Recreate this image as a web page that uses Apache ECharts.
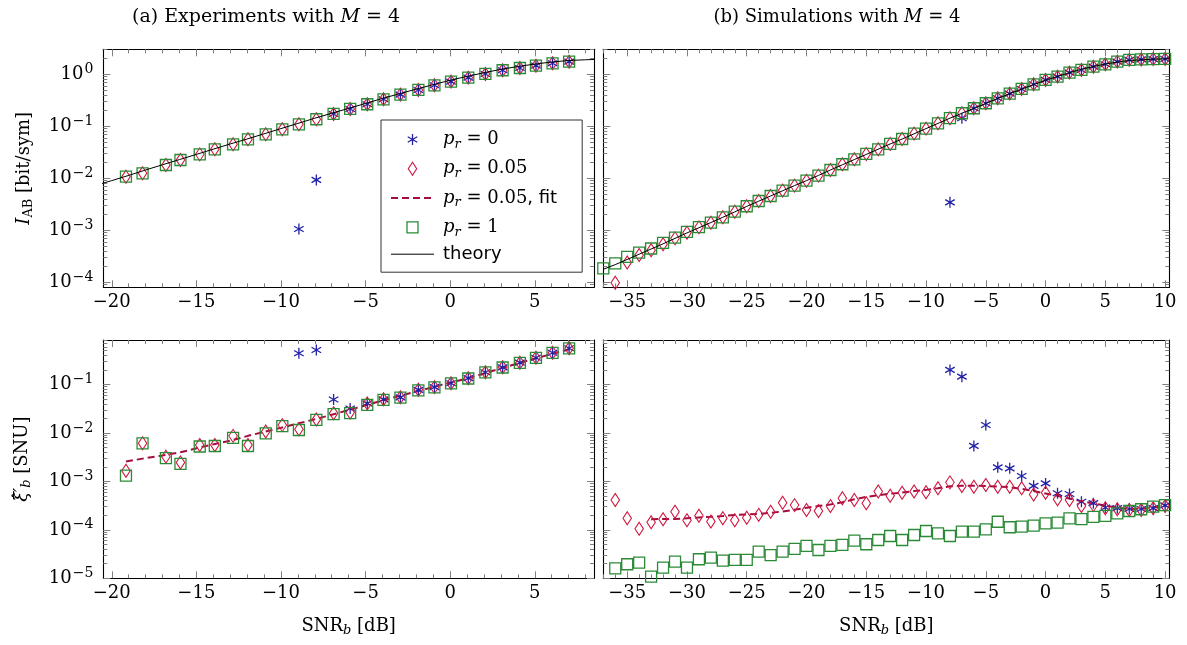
<!DOCTYPE html>
<html><head><meta charset="utf-8">
<script src="https://cdn.jsdelivr.net/npm/echarts@6/dist/echarts.min.js"></script>
<style>html,body{margin:0;padding:0;background:#fff}#c{width:1187px;height:645px}</style>
</head><body><div id="c"></div>
<script>
// ---------------- data ----------------
// (a) experiments: SNR_b [dB]
const SNR_EXP = [-19.16,-18.18,-16.80,-15.94,-14.80,-13.91,-12.83,-11.95,-10.90,-9.92,-8.94,-7.91,-6.89,-5.91,-4.90,-3.94,-2.94,-1.88,-0.93,0.05,1.07,2.08,3.10,4.12,5.07,6.05,7.03];
const I_EXP_P1 = [0.01074,0.01247,0.01803,0.02249,0.02884,0.03606,0.04508,0.05623,0.07015,0.0875,0.1091,0.1365,0.1726,0.2153,0.2649,0.3304,0.4064,0.4989,0.6138,0.7228,0.861,1.014,1.194,1.321,1.462,1.626,1.746];
const I_EXP_P005 = [0.01074,0.01247,0.01803,0.02249,0.02884,0.03606,0.04508,0.05623,0.07015,0.0875,0.1091,0.1365,0.1726,0.2153,0.2649,0.3304,0.4064,0.4989,0.6138,0.7228,0.861,1.014,1.194,1.321,1.462,1.626,1.746];
const I_EXP_P0 = [null,null,null,null,null,null,null,null,null,null,1.06e-3,9.3e-3,0.1726,0.2153,0.2649,0.3304,0.4064,0.4989,0.6138,0.7228,0.861,1.014,1.194,1.321,1.462,1.626,1.746];
const XI_EXP_P1 = [1.32e-3,6.1e-3,3.02e-3,2.29e-3,5.25e-3,5.37e-3,7.94e-3,5.37e-3,9.77e-3,1.38e-2,1.15e-2,1.86e-2,2.45e-2,2.57e-2,3.8e-2,4.79e-2,5.37e-2,7.59e-2,8.71e-2,0.105,0.133,0.178,0.224,0.279,0.355,0.45,0.556];
const XI_EXP_P005 = [1.66e-3,6.1e-3,3.24e-3,2.45e-3,5.62e-3,5.62e-3,8.7e-3,5.62e-3,1.07e-2,1.45e-2,1.19e-2,1.9e-2,2.55e-2,2.63e-2,4.07e-2,4.94e-2,5.43e-2,7.76e-2,8.81e-2,0.106,0.135,0.179,0.226,0.282,0.357,0.453,0.558];
const XI_EXP_P0 = [null,null,null,null,null,null,null,null,null,null,0.44,0.515,0.049,0.032,4.07e-2,4.94e-2,5.43e-2,7.76e-2,8.81e-2,0.106,0.135,0.179,0.226,0.282,0.357,0.453,0.558];
const XI_EXP_FIT = [2.57e-3,2.95e-3,3.51e-3,3.98e-3,5.01e-3,5.89e-3,7.16e-3,8.71e-3,1.07e-2,1.30e-2,1.585e-2,1.95e-2,2.43e-2,3.02e-2,3.8e-2,4.73e-2,5.89e-2,7.33e-2,9.02e-2,0.1096,0.135,0.172,0.221,0.279,0.347,0.431,0.533];

// (b) simulations: SNR_b [dB]
const SNR_SIM = [-37,-36,-35,-34,-33,-32,-31,-30,-29,-28,-27,-26,-25,-24,-23,-22,-21,-20,-19,-18,-17,-16,-15,-14,-13,-12,-11,-10,-9,-8,-7,-6,-5,-4,-3,-2,-1,0,1,2,3,4,5,6,7,8,9,10];
const I_SIM_P1 = [1.86e-4,2.32e-4,3.09e-4,3.72e-4,4.47e-4,5.75e-4,7.24e-4,9.3e-4,1.15e-3,1.40e-3,1.78e-3,2.28e-3,2.90e-3,3.66e-3,4.57e-3,5.80e-3,7.23e-3,9.0e-3,1.125e-2,1.445e-2,1.86e-2,2.32e-2,2.94e-2,3.61e-2,4.57e-2,5.70e-2,7.23e-2,9.0e-2,0.114,0.143,0.178,0.222,0.277,0.345,0.425,0.522,0.642,0.778,0.90,1.076,1.21,1.40,1.556,1.75,1.89,1.93,1.96,1.97];
const I_SIM_P005 = [null,9.8e-5,2.40e-4,3.35e-4,4.12e-4,5.40e-4,7.0e-4,9.0e-4,1.14e-3,1.40e-3,1.78e-3,2.28e-3,2.90e-3,3.66e-3,4.57e-3,5.80e-3,7.23e-3,9.0e-3,1.125e-2,1.445e-2,1.86e-2,2.32e-2,2.94e-2,3.61e-2,4.57e-2,5.70e-2,7.23e-2,9.0e-2,0.114,0.143,0.178,0.222,0.277,0.345,0.425,0.522,0.642,0.778,0.90,1.076,1.21,1.40,1.556,1.75,1.89,1.93,1.96,1.97];
const I_SIM_P0 = [null,null,null,null,null,null,null,null,null,null,null,null,null,null,null,null,null,null,null,null,null,null,null,null,null,null,null,null,null,3.45e-3,0.1425,0.222,0.277,0.345,0.425,0.522,0.642,0.778,0.90,1.076,1.21,1.40,1.556,1.75,1.89,1.93,1.96,1.97];
const XI_SIM_P1 = [null,1.61e-5,1.95e-5,2.10e-5,1.08e-5,1.66e-5,2.20e-5,1.66e-5,2.47e-5,2.66e-5,2.31e-5,2.39e-5,2.39e-5,3.55e-5,3.02e-5,3.55e-5,4.03e-5,4.65e-5,3.84e-5,4.65e-5,4.88e-5,5.97e-5,5.04e-5,6.17e-5,7.46e-5,6.17e-5,7.83e-5,9.46e-5,8.49e-5,7.46e-5,9.16e-5,9.16e-5,1.02e-4,1.47e-4,1.13e-4,1.16e-4,1.22e-4,1.36e-4,1.41e-4,1.73e-4,1.67e-4,1.86e-4,1.95e-4,2.19e-4,2.45e-4,2.66e-4,3.02e-4,3.24e-4];
const XI_SIM_P005 = [null,4.13e-4,1.73e-4,1.05e-4,1.43e-4,1.66e-4,2.37e-4,1.58e-4,1.95e-4,1.48e-4,1.73e-4,1.58e-4,1.78e-4,2.04e-4,2.37e-4,3.63e-4,3.24e-4,2.57e-4,2.45e-4,3.09e-4,4.47e-4,4.13e-4,3.55e-4,6.17e-4,5.07e-4,5.85e-4,6.17e-4,5.96e-4,7.24e-4,9.55e-4,8.04e-4,7.76e-4,8.41e-4,7.76e-4,7.76e-4,7.24e-4,5.37e-4,5.85e-4,4.27e-4,4.13e-4,3.09e-4,3.24e-4,2.79e-4,2.66e-4,2.57e-4,2.57e-4,2.79e-4,3.09e-4];
const XI_SIM_P0 = [null,null,null,null,null,null,null,null,null,null,null,null,null,null,null,null,null,null,null,null,null,null,null,null,null,null,null,null,null,0.20,0.145,5.4e-3,1.46e-2,1.95e-3,1.86e-3,1.29e-3,8.1e-4,9.1e-4,5.7e-4,5.5e-4,3.8e-4,3.55e-4,2.9e-4,2.8e-4,2.7e-4,2.7e-4,2.8e-4,3.2e-4];
const XI_SIM_FIT = [null,null,null,null,1.66e-4,1.67e-4,1.67e-4,1.74e-4,1.80e-4,1.86e-4,1.93e-4,2.02e-4,2.09e-4,2.14e-4,2.24e-4,2.40e-4,2.60e-4,2.85e-4,3.09e-4,3.35e-4,3.72e-4,4.27e-4,4.79e-4,5.19e-4,5.56e-4,5.89e-4,6.31e-4,6.68e-4,7.24e-4,7.94e-4,8.13e-4,8.13e-4,8.04e-4,7.85e-4,7.59e-4,7.0e-4,6.31e-4,5.62e-4,5.07e-4,4.42e-4,3.89e-4,3.51e-4,3.16e-4,2.85e-4,2.69e-4,2.72e-4,2.92e-4,3.09e-4];

// theory curve (both top panels)
const SNR_THEORY = [-37,-36,-35,-34,-33,-32,-31,-30,-29,-28,-27,-26,-25,-24,-23,-22,-21,-20,-19,-18,-17,-16,-15,-14,-13,-12,-11,-10,-9,-8,-7,-6,-5,-4,-3,-2,-1,0,1,2,3,4,5,6,7,8,9,10,11];
const I_THEORY = [1.78e-4,2.19e-4,2.75e-4,3.47e-4,4.37e-4,5.50e-4,7.00e-4,8.91e-4,1.12e-3,1.41e-3,1.78e-3,2.26e-3,2.88e-3,3.63e-3,4.57e-3,5.75e-3,7.24e-3,9.02e-3,1.135e-2,1.445e-2,1.82e-2,2.29e-2,2.88e-2,3.63e-2,4.57e-2,5.69e-2,7.16e-2,9.02e-2,0.1135,0.143,0.178,0.221,0.275,0.343,0.422,0.519,0.631,0.767,0.912,1.07,1.245,1.41,1.57,1.72,1.84,1.90,1.95,1.98,1.99];

// tick labels
const X_TICKS_EXP = [-20,-15,-10,-5,0,5];
const X_TICKS_SIM = [-35,-30,-25,-20,-15,-10,-5,0,5,10];
const Y_TICKS_I = [1e-4,1e-3,1e-2,1e-1,1];
const Y_TICKS_XI = [1e-5,1e-4,1e-3,1e-2,1e-1];

// ---------------- style ----------------
const SERIF = '"DejaVu Serif","Liberation Serif",serif';
const SANS = '"DejaVu Sans","Noto Sans",sans-serif';
const FS = 18;
const FSS = 13;
const TICK = '#808080';
const BLUE = '#2222a8';
const RED = '#d0143c';
const FITC = '#a50d3e';
const GREEN = '#2b8a36';
const CLEAR = 'rgba(0,0,0,0)';
const STAR = 'path://M0,-10L0,10M-8.66,-5L8.66,5M-8.66,5L8.66,-5';

const grids = [
  {left: 103.3, top: 49.3, width: 490.7, height: 238},
  {left: 603.3, top: 49.3, width: 566, height: 238},
  {left: 103.3, top: 340, width: 490.7, height: 238.3},
  {left: 603.3, top: 340, width: 566, height: 238.3}
];

function tk(vals, len) {
  return {show: true, inside: true, length: len, customValues: vals, lineStyle: {color: TICK, width: 1}};
}
const FRAME = {show: true, onZero: false, lineStyle: {color: '#000', width: 1.1}};
const NOLINE = {show: false, onZero: false};

function xAxesFor(g, min, max, majors, named) {
  const minors = [];
  for (let v = Math.ceil(min); v <= Math.floor(max); v++) if (majors.indexOf(v) < 0) minors.push(v);
  const common = {type: 'value', gridIndex: g, min: min, max: max, splitLine: {show: false}, silent: true};
  const main = Object.assign({}, common, {
    position: 'bottom', axisLine: FRAME, axisTick: tk(majors, 7),
    axisLabel: {show: true, customValues: majors, margin: 6, fontFamily: SERIF, fontSize: FS, color: '#000',
      formatter: v => (v < 0 ? '\u2212' + (-v) : String(v))}
  });
  if (named) Object.assign(main, {
    name: 'SNR{sb|b} [dB]', nameLocation: 'middle', nameGap: 37,
    nameTextStyle: {fontFamily: SERIF, fontSize: FS, color: '#000',
      rich: {sb: {fontFamily: SERIF, fontStyle: 'italic', fontSize: FSS, padding: [9, 0, 0, 0]}}}
  });
  return [main,
    Object.assign({}, common, {position: 'bottom', axisLine: NOLINE, axisTick: tk(minors, 4), axisLabel: {show: false}}),
    Object.assign({}, common, {position: 'top', axisLine: FRAME, axisTick: tk(majors, 7), axisLabel: {show: false}}),
    Object.assign({}, common, {position: 'top', axisLine: NOLINE, axisTick: tk(minors, 4), axisLabel: {show: false}})];
}

function yAxesFor(g, min, max, majors, showLabels, nameCfg) {
  const minors = [];
  for (let e = -7; e <= 1; e++) for (let k = 2; k <= 9; k++) {
    const v = +(k * Math.pow(10, e)).toPrecision(3);
    if (v > min && v < max) minors.push(v);
  }
  const common = {type: 'log', logBase: 10, gridIndex: g, min: min, max: max, splitLine: {show: false}, silent: true};
  const main = Object.assign({}, common, {
    position: 'left', axisLine: FRAME, axisTick: tk(majors, 7),
    axisLabel: {show: showLabels, customValues: majors, margin: 10,
      formatter: v => { const e = Math.round(Math.log10(v)); return '{b|10}{s|' + (e < 0 ? '\u2212' + (-e) : e) + '}'; },
      rich: {b: {fontFamily: SERIF, fontSize: FS, color: '#000'},
             s: {fontFamily: SERIF, fontSize: 14, color: '#000', padding: [0, 0, 10, 1]}}}
  });
  if (nameCfg) Object.assign(main, nameCfg);
  return [main,
    Object.assign({}, common, {position: 'left', axisLine: NOLINE, axisTick: tk(minors, 4), axisLabel: {show: false}}),
    Object.assign({}, common, {position: 'right', axisLine: FRAME, axisTick: tk(majors, 7), axisLabel: {show: false}}),
    Object.assign({}, common, {position: 'right', axisLine: NOLINE, axisTick: tk(minors, 4), axisLabel: {show: false}})];
}

const NAME_STYLE = {fontFamily: SERIF, fontSize: FS, color: '#000',
  rich: {i: {fontFamily: SERIF, fontStyle: 'italic', fontSize: FS},
         sub: {fontFamily: SERIF, fontSize: FSS, padding: [9, 0, 0, 0]},
         subi: {fontFamily: SERIF, fontStyle: 'italic', fontSize: FSS, padding: [9, 0, 0, 0]}}};

const xAxis = [].concat(
  xAxesFor(0, -20.5, 8.5, X_TICKS_EXP, false),
  xAxesFor(1, -37, 10.35, X_TICKS_SIM, false),
  xAxesFor(2, -20.5, 8.5, X_TICKS_EXP, true),
  xAxesFor(3, -37, 10.35, X_TICKS_SIM, true)
);
const yAxis = [].concat(
  yAxesFor(0, 8.02e-5, 3.02, Y_TICKS_I, true, {name: '{i|I}{sub|AB} [bit/sym]', nameLocation: 'middle', nameRotate: 90, nameGap: 68, nameTextStyle: NAME_STYLE}),
  yAxesFor(1, 8.02e-5, 3.02, Y_TICKS_I, false, null),
  yAxesFor(2, 0.99999e-5, 0.828, Y_TICKS_XI, true, {name: '{i|\u03BE\u0302\u2032}{subi|b} [SNU]', nameLocation: 'middle', nameRotate: 90, nameGap: 70, nameTextStyle: NAME_STYLE}),
  yAxesFor(3, 0.99999e-5, 0.828, Y_TICKS_XI, false, null)
);

function pairs(xs, ys) {
  const out = [];
  for (let i = 0; i < xs.length; i++) if (ys[i] != null) out.push([xs[i], ys[i]]);
  return out;
}
function stars(g, xs, ys) {
  return {type: 'scatter', name: 'p0', xAxisIndex: 4 * g, yAxisIndex: 4 * g, data: pairs(xs, ys), symbol: STAR, symbolSize: 11, symbolKeepAspect: true,
    itemStyle: {color: CLEAR, borderColor: BLUE, borderWidth: 1.3, opacity: 1}, clip: false, silent: true, z: 3};
}
function diamonds(g, xs, ys) {
  return {type: 'scatter', name: 'p005', xAxisIndex: 4 * g, yAxisIndex: 4 * g, data: pairs(xs, ys), symbol: 'diamond', symbolSize: [8.5, 13],
    itemStyle: {color: CLEAR, borderColor: RED, borderWidth: 1.1, opacity: 1}, clip: false, silent: true, z: 3};
}
function squares(g, xs, ys) {
  return {type: 'scatter', name: 'p1', xAxisIndex: 4 * g, yAxisIndex: 4 * g, data: pairs(xs, ys), symbol: 'rect', symbolSize: 11,
    itemStyle: {color: CLEAR, borderColor: GREEN, borderWidth: 1.3, opacity: 1}, clip: false, silent: true, z: 3};
}
function fitLine(g, xs, ys) {
  return {type: 'line', name: 'fit', xAxisIndex: 4 * g, yAxisIndex: 4 * g, data: pairs(xs, ys), symbol: 'none', showSymbol: false,
    lineStyle: {color: FITC, width: 2, type: [7, 4]}, itemStyle: {color: FITC}, clip: true, silent: true, z: 3};
}
function theory(g) {
  return {type: 'line', name: 'theory', xAxisIndex: 4 * g, yAxisIndex: 4 * g, data: pairs(SNR_THEORY, I_THEORY), symbol: 'none', showSymbol: false,
    lineStyle: {color: '#000', width: 1}, itemStyle: {color: '#000'}, clip: true, silent: true, z: 4};
}

const series = [
  stars(0, SNR_EXP, I_EXP_P0), diamonds(0, SNR_EXP, I_EXP_P005), squares(0, SNR_EXP, I_EXP_P1), theory(0),
  stars(1, SNR_SIM, I_SIM_P0), diamonds(1, SNR_SIM, I_SIM_P005), squares(1, SNR_SIM, I_SIM_P1), theory(1),
  stars(2, SNR_EXP, XI_EXP_P0), diamonds(2, SNR_EXP, XI_EXP_P005), fitLine(2, SNR_EXP, XI_EXP_FIT), squares(2, SNR_EXP, XI_EXP_P1),
  stars(3, SNR_SIM, XI_SIM_P0), diamonds(3, SNR_SIM, XI_SIM_P005), fitLine(3, SNR_SIM, XI_SIM_FIT), squares(3, SNR_SIM, XI_SIM_P1)
];

const LEG_TEXT = {
  p0: '{i|p}{r|r}{n| = 0}',
  p005: '{i|p}{r|r}{n| = 0.05}',
  fit: '{i|p}{r|r}{n| = 0.05}{f|, fit}',
  p1: '{i|p}{r|r}{n| = 1}',
  theory: '{f0|theory}'
};

const option = {
  animation: false,
  backgroundColor: '#fff',
  grid: grids,
  xAxis: xAxis,
  yAxis: yAxis,
  series: series,
  legend: {
    orient: 'vertical', left: 381, top: 120,
    itemWidth: 43, itemHeight: 14, itemGap: 6.3,
    padding: [8, 25, 9, 9],
    backgroundColor: '#fff', borderColor: '#333', borderWidth: 1, borderRadius: 0,
    selectedMode: false, z: 10,
    formatter: name => LEG_TEXT[name],
    textStyle: {fontFamily: SERIF, fontSize: FS, color: '#000',
      rich: {
        i: {fontFamily: SERIF, fontStyle: 'italic', fontSize: FS, lineHeight: 23, padding: [0, 0, 0, 4]},
        r: {fontFamily: SERIF, fontStyle: 'italic', fontSize: FSS, lineHeight: 13, padding: [10, 0, 0, 0]},
        n: {fontFamily: SERIF, fontSize: FS, lineHeight: 23},
        f: {fontFamily: SANS, fontSize: 18, lineHeight: 23},
        f0: {fontFamily: SANS, fontSize: 18, lineHeight: 23, padding: [0, 0, 0, 4]}
      }},
    data: [
      {name: 'p0', icon: 'path://M0,0M14,14M7,1.5L7,12.5M2.24,4.25L11.76,9.75M2.24,9.75L11.76,4.25',
        itemStyle: {color: CLEAR, borderColor: BLUE, borderWidth: 1.3}},
      {name: 'p005', icon: 'path://M0,0M14,14M7,0.5L11.2,7L7,13.5L2.8,7Z',
        itemStyle: {color: CLEAR, borderColor: RED, borderWidth: 1.1}},
      {name: 'fit', icon: 'path://M0,0M43,14M0,7L43,7',
        itemStyle: {color: CLEAR, borderColor: FITC, borderWidth: 2, borderType: [7, 4]}},
      {name: 'p1', icon: 'path://M0,0M14,14M1.5,1.5L12.5,1.5L12.5,12.5L1.5,12.5Z',
        itemStyle: {color: CLEAR, borderColor: GREEN, borderWidth: 1.3}},
      {name: 'theory', icon: 'path://M0,0M43,14M0,7L43,7',
        itemStyle: {color: CLEAR, borderColor: '#000', borderWidth: 1}}
    ]
  },
  graphic: [
    {type: 'text', x: 266, y: 17, silent: true,
      style: {text: '(a) Experiments with {i|M} = 4', align: 'center', verticalAlign: 'middle', fontFamily: SERIF, fontSize: 19, fill: '#000',
        rich: {i: {fontFamily: SERIF, fontStyle: 'italic', fontSize: 19}}}},
    {type: 'text', x: 837, y: 17, silent: true,
      style: {text: '(b) Simulations with {i|M} = 4', align: 'center', verticalAlign: 'middle', fontFamily: SERIF, fontSize: 18, fill: '#000',
        rich: {i: {fontFamily: SERIF, fontStyle: 'italic', fontSize: 18}}}}
  ]
};

const chart = echarts.init(document.getElementById('c'), null, {renderer: 'canvas'});
chart.setOption(option);
</script>
</body></html>
